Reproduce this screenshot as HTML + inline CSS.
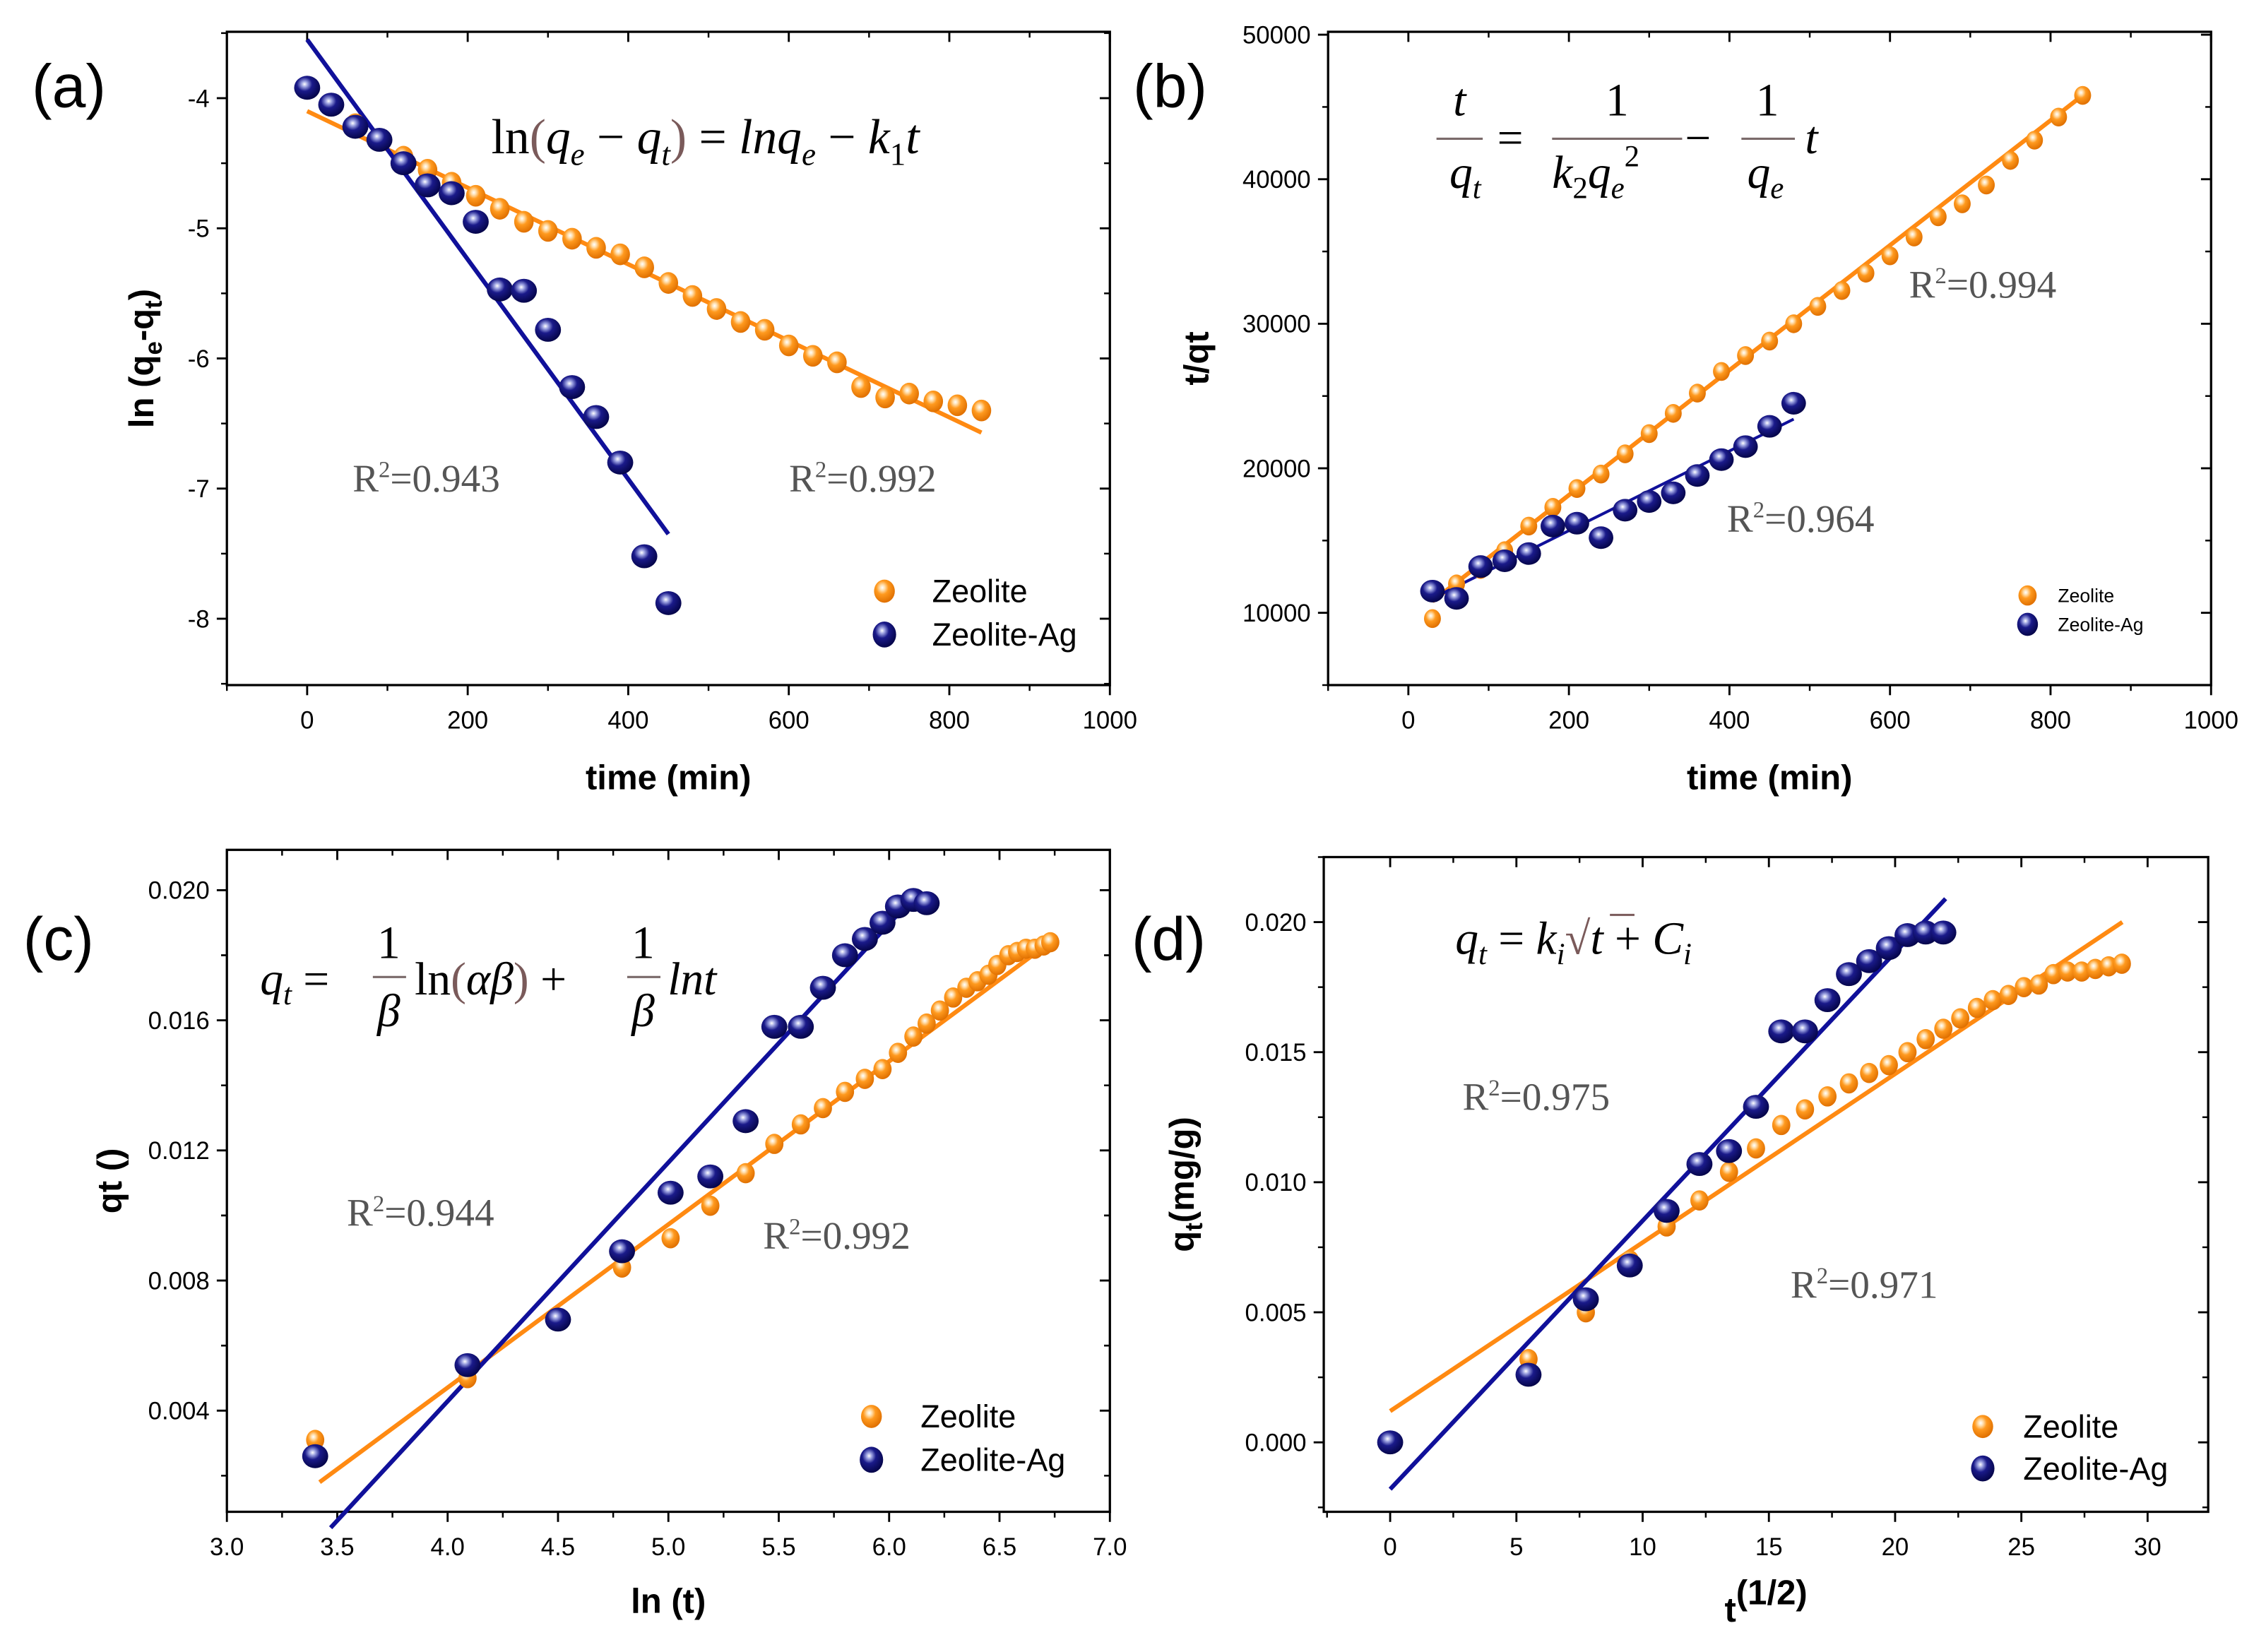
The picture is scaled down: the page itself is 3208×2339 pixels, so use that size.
<!DOCTYPE html>
<html><head><meta charset="utf-8"><style>
html,body{margin:0;padding:0;background:#fff;}
svg{display:block;}
</style></head><body>
<svg id="fig" xmlns="http://www.w3.org/2000/svg" width="3208" height="2339" viewBox="0 0 1568 1143" preserveAspectRatio="none">
<defs>
<radialGradient id="gO" cx="0.4" cy="0.35" r="0.65"><stop offset="0" stop-color="#fff"/><stop offset="0.18" stop-color="#ffe0b0"/><stop offset="0.45" stop-color="#ff9a1f"/><stop offset="1" stop-color="#e07000"/></radialGradient>
<radialGradient id="gB" cx="0.4" cy="0.35" r="0.65"><stop offset="0" stop-color="#fff"/><stop offset="0.18" stop-color="#9aa0e0"/><stop offset="0.45" stop-color="#1a1a8a"/><stop offset="1" stop-color="#05054a"/></radialGradient>
</defs>
</svg>
<script>
// ---------- data ----------
const aZeoT=[60,90,120,150,180,210,240,270,300,330,360,390,420,450,480,510,540,570,600,630,660,690,720,750,780,810,840];
const aZeoV=[-4.2,-4.32,-4.45,-4.55,-4.65,-4.75,-4.85,-4.95,-5.02,-5.08,-5.15,-5.2,-5.3,-5.42,-5.52,-5.62,-5.72,-5.78,-5.9,-5.98,-6.03,-6.22,-6.3,-6.27,-6.33,-6.36,-6.4];
const aAgT=[0,30,60,90,120,150,180,210,240,270,300,330,360,390,420,450];
const aAgV=[-3.92,-4.05,-4.22,-4.32,-4.5,-4.67,-4.73,-4.95,-5.47,-5.48,-5.78,-6.22,-6.45,-6.8,-7.52,-7.88];
const aZeoFit=[[0,-4.1],[840,-6.57]];
const aAgFit=[[0,-3.55],[450,-7.35]];

const bZeoT=[30,60,90,120,150,180,210,240,270,300,330,360,390,420,450,480,510,540,570,600,630,660,690,720,750,780,810,840];
const bZeoV=[9600,12000,13000,14300,16000,17300,18600,19600,21000,22400,23800,25200,26700,27800,28800,30000,31200,32300,33500,34700,36000,37400,38300,39600,41300,42700,44300,45800];
const bAgT=[30,60,90,120,150,180,210,240,270,300,330,360,390,420,450,480];
const bAgV=[11500,11000,13200,13600,14100,16000,16200,15200,17100,17700,18300,19500,20600,21500,22900,24500];
const bZeoFit=[[30,10800],[840,45800]];
const bAgFit=[[30,11000],[480,23400]];

const cZeoX=[3.40,4.09,4.50,4.79,5.01,5.19,5.35,5.48,5.60,5.70,5.80,5.89,5.97,6.04,6.11,6.17,6.23,6.29,6.35,6.40,6.45,6.49,6.54,6.58,6.62,6.66,6.70,6.73];
const cZeoV=[0.0031,0.0050,0.0068,0.0084,0.0093,0.0103,0.0113,0.0122,0.0128,0.0133,0.0138,0.0142,0.0145,0.0150,0.0155,0.0159,0.0163,0.0167,0.0170,0.0172,0.0174,0.0177,0.0180,0.0181,0.0182,0.0182,0.0183,0.0184];
const cAgX=[3.40,4.09,4.50,4.79,5.01,5.19,5.35,5.48,5.60,5.70,5.80,5.89,5.97,6.04,6.11,6.17];
const cAgV=[0.0026,0.0054,0.0068,0.0089,0.0107,0.0112,0.0129,0.0158,0.0158,0.0170,0.0180,0.0185,0.0190,0.0195,0.0197,0.0196];
const cZeoFit=[[3.42,0.0018],[6.73,0.0184]];
const cAgFit=[[3.47,0.0004],[6.1,0.0197]];

const dZeoX=[5.48,7.75,9.49,10.95,12.25,13.42,14.49,15.49,16.43,17.32,18.17,18.97,19.75,20.49,21.21,21.91,22.58,23.24,23.87,24.49,25.1,25.69,26.27,26.83,27.39,27.93,28.46,28.98];
const dZeoV=[0.0032,0.0050,0.0070,0.0083,0.0093,0.0104,0.0113,0.0122,0.0128,0.0133,0.0138,0.0142,0.0145,0.0150,0.0155,0.0159,0.0163,0.0167,0.0170,0.0172,0.0175,0.0176,0.0180,0.0181,0.0181,0.0182,0.0183,0.0184];
const dAgX=[0,5.48,7.75,9.49,10.95,12.25,13.42,14.49,15.49,16.43,17.32,18.17,18.97,19.75,20.49,21.21,21.91];
const dAgV=[0,0.0026,0.0055,0.0068,0.0089,0.0107,0.0112,0.0129,0.0158,0.0158,0.0170,0.0180,0.0185,0.0190,0.0195,0.0196,0.0196];
const dZeoFit=[[0,0.0012],[29,0.0200]];
const dAgFit=[[0,-0.0018],[22,0.0209]];

const aXTicks=[0,200,400,600,800,1000];
const aYTicks=[-4,-5,-6,-7,-8];
const bXTicks=[0,200,400,600,800,1000];
const bYTicks=[10000,20000,30000,40000,50000];
const cXTicks=[3.0,3.5,4.0,4.5,5.0,5.5,6.0,6.5,7.0];
const cYTicks=[0.004,0.008,0.012,0.016,0.020];
const dXTicks=[0,5,10,15,20,25,30];
const dYTicks=[0.000,0.005,0.010,0.015,0.020];

// ---------- drawing ----------
const NS='http://www.w3.org/2000/svg';
const svg=document.getElementById('fig');
function mk(tag,attrs,parent){const e=document.createElementNS(NS,tag);for(const k in attrs)e.setAttribute(k,attrs[k]);(parent||svg).appendChild(e);return e;}
const ORANGE='#ff8a12', BLUE='#10109a';
const TF='"Liberation Sans Narrow","Liberation Sans",sans-serif';

function panel(p){
  const g=mk('g',{});
  
  
  const sx=v=>p.x0+(v-p.xmin)/(p.xmax-p.xmin)*(p.x1-p.x0);
  const sy=v=>p.y1-(v-p.ymin)/(p.ymax-p.ymin)*(p.y1-p.y0);
  const frame=mk('rect',{x:p.x0,y:p.y0,width:p.x1-p.x0,height:p.y1-p.y0,fill:'none',stroke:'#000','stroke-width':1.6},g);
  
  
  // x ticks
  p.xt.forEach((v,i)=>{
    const x=sx(v);
    mk('line',{x1:x,y1:p.y1,x2:x,y2:p.y1+7,stroke:'#000','stroke-width':1.4},g);
    mk('line',{x1:x,y1:p.y0,x2:x,y2:p.y0+7,stroke:'#000','stroke-width':1.4},g);
    const t=mk('text',{x:x,y:p.y1+30,'text-anchor':'middle','font-family':TF,'font-size':17},g);
    t.textContent=p.xfmt(v);
    
    
    if(i<p.xt.length-1){const xm=sx((v+p.xt[i+1])/2);
      mk('line',{x1:xm,y1:p.y1,x2:xm,y2:p.y1+4,stroke:'#000','stroke-width':1.2},g);
      mk('line',{x1:xm,y1:p.y0,x2:xm,y2:p.y0+4,stroke:'#000','stroke-width':1.2},g);}
  });
  if(p.xt0!==undefined){const xm=sx(p.xt0);mk('line',{x1:xm,y1:p.y1,x2:xm,y2:p.y1+4,stroke:'#000','stroke-width':1.2},g);}
  p.yt.forEach((v,i)=>{
    const y=sy(v);
    mk('line',{x1:p.x0-7,y1:y,x2:p.x0,y2:y,stroke:'#000','stroke-width':1.4},g);
    mk('line',{x1:p.x1-7,y1:y,x2:p.x1,y2:y,stroke:'#000','stroke-width':1.4},g);
    const t=mk('text',{x:p.x0-12,y:y+6,'text-anchor':'end','font-family':TF,'font-size':17},g);
    t.textContent=p.yfmt(v);
    
    
    if(i<p.yt.length-1){const ym=sy((v+p.yt[i+1])/2);
      mk('line',{x1:p.x0-4,y1:ym,x2:p.x0,y2:ym,stroke:'#000','stroke-width':1.2},g);
      mk('line',{x1:p.x1-4,y1:ym,x2:p.x1,y2:ym,stroke:'#000','stroke-width':1.2},g);}
  });
  (p.yextra||[]).forEach(v=>{const ym=sy(v);
      mk('line',{x1:p.x0-4,y1:ym,x2:p.x0,y2:ym,stroke:'#000','stroke-width':1.2},g);
      mk('line',{x1:p.x1-4,y1:ym,x2:p.x1,y2:ym,stroke:'#000','stroke-width':1.2},g);});
  // fits
  const f1=mk('line',{x1:sx(p.zf[0][0]),y1:sy(p.zf[0][1]),x2:sx(p.zf[1][0]),y2:sy(p.zf[1][1]),stroke:ORANGE,'stroke-width':p.lw},g);
  
  
  const f2=mk('line',{x1:sx(p.af[0][0]),y1:sy(p.af[0][1]),x2:sx(p.af[1][0]),y2:sy(p.af[1][1]),stroke:BLUE,'stroke-width':p.lwb||p.lw},g);
  
  
  // points
  p.zx.forEach((x,i)=>{const c=mk('ellipse',{cx:sx(x),cy:sy(p.zy[i]),rx:p.ro*0.9,ry:p.ro,fill:'url(#gO)'},g);
    
    });
  p.ax.forEach((x,i)=>{const c=mk('ellipse',{cx:sx(x),cy:sy(p.ay[i]),rx:p.rb,ry:p.rb*0.92,fill:'url(#gB)'},g);
    
    });
  // axis titles
  const xt=mk('text',{x:(p.x0+p.x1)/2,y:p.xty,'text-anchor':'middle','font-family':'"Liberation Sans",sans-serif','font-size':24,'font-weight':'bold'},g);
  xt.innerHTML=p.xtitle;
  
  
  const yt=mk('text',{x:0,y:0,'text-anchor':'middle','font-family':'"Liberation Sans",sans-serif','font-size':24,'font-weight':'bold',transform:`translate(${p.ytx},${(p.y0+p.y1)/2}) rotate(-90)`},g);
  yt.innerHTML=p.ytitle;
  
  
  // panel label
  const pl=mk('text',{x:p.plx,y:p.ply,'font-family':'"Liberation Sans",sans-serif','font-size':42},g);
  pl.textContent='('+p.id+')';
  
  
  // R2
  p.r2.forEach(r=>{const t=mk('text',{x:r[0],y:r[1],'font-family':'"Liberation Serif",serif','font-size':27,fill:'#555'},g);
    t.innerHTML='R<tspan dy="-10" font-size="16">2</tspan><tspan dy="10">='+r[2]+'</tspan>';
    
    });
  // legend
  const L=p.leg;
  const lg=mk('g',{},g);
  
  
  [['Zeolite','url(#gO)',L.ro],['Zeolite-Ag','url(#gB)',L.rb]].forEach((e,i)=>{
    const yy=L.y+i*L.dy;
    const c=mk('ellipse',{cx:L.x,cy:yy,rx:e[2]*0.9,ry:e[2],fill:e[1]},lg);
    
    
    const t=mk('text',{x:L.x+L.tx,y:yy+L.fs*0.35,'font-family':TF,'font-size':L.fs},lg);
    t.textContent=e[0];
    
    
  });
  // equation
  const eq=mk('g',{},g);
  
  
  eq.innerHTML=p.eq;
}

const I='font-family="Liberation Serif,serif" font-style="italic"';
panel({id:'a',x0:157,x1:768,y0:22,y1:474,xmin:-100,xmax:1000,ymin:-8.51,ymax:-3.49,
 xt:aXTicks,yt:aYTicks,xt0:-100,yextra:[-3.5,-8.5],xfmt:v=>String(v),yfmt:v=>String(v),
 zx:aZeoT,zy:aZeoV,ax:aAgT,ay:aAgV,zf:aZeoFit,af:aAgFit,lw:3,ro:7.5,rb:9,
 xtitle:'time (min)',xty:546,ytitle:'ln (q<tspan dy="6" font-size="17">e</tspan><tspan dy="-6">-q</tspan><tspan dy="6" font-size="17">t</tspan><tspan dy="-6">)</tspan>',ytx:106,
 plx:22,ply:74,r2:[[244,340,'0.943'],[546,340,'0.992']],
 leg:{x:612,y:409,dy:30,tx:33,ro:8,rb:9,fs:22},
 eq:`<text x="340" y="106" font-family="Liberation Serif,serif" font-size="34">ln<tspan fill="#7a5a5a">(</tspan><tspan font-style="italic">q</tspan><tspan font-style="italic" font-size="22" dy="8">e</tspan><tspan dy="-8"> − </tspan><tspan font-style="italic">q</tspan><tspan font-style="italic" font-size="22" dy="8">t</tspan><tspan dy="-8" fill="#7a5a5a">)</tspan> = <tspan font-style="italic">lnq</tspan><tspan font-style="italic" font-size="22" dy="8">e</tspan><tspan dy="-8"> − </tspan><tspan font-style="italic">k</tspan><tspan font-size="22" dy="8">1</tspan><tspan font-style="italic" dy="-8">t</tspan></text>`});

panel({id:'b',x0:919,x1:1530,y0:22,y1:474,xmin:-100,xmax:1000,ymin:5000,ymax:50200,
 xt:bXTicks,yt:bYTicks,xt0:-100,yextra:[5000],xfmt:v=>String(v),yfmt:v=>String(v),
 zx:bZeoT,zy:bZeoV,ax:bAgT,ay:bAgV,zf:bZeoFit,af:bAgFit,lw:3,lwb:2,ro:6.5,rb:8.5,
 xtitle:'time (min)',xty:546,ytitle:'t/qt',ytx:836,
 plx:784,ply:74,r2:[[1321,206,'0.994'],[1195,368,'0.964']],
 leg:{x:1403,y:412,dy:20,tx:21,ro:7,rb:8,fs:13},
 eq:`<g font-family="Liberation Serif,serif" font-size="32">
 <text x="1010" y="80" text-anchor="middle" font-style="italic">t</text>
 <line x1="994" y1="96" x2="1026" y2="96" stroke="#7a6a6a" stroke-width="1.5"/>
 <text x="1003" y="130" font-style="italic">q<tspan font-size="21" dy="7">t</tspan></text>
 <text x="1036" y="106">=</text>
 <text x="1119" y="80" text-anchor="middle">1</text>
 <line x1="1074" y1="96" x2="1164" y2="96" stroke="#7a6a6a" stroke-width="1.5"/>
 <text x="1074" y="130" font-style="italic">k<tspan font-style="normal" font-size="21" dy="7">2</tspan><tspan dy="-7">q</tspan><tspan font-size="21" dy="7">e</tspan><tspan font-style="normal" font-size="21" dy="-22">2</tspan></text>
 <text x="1166" y="106">−</text>
 <text x="1223" y="80" text-anchor="middle">1</text>
 <line x1="1205" y1="96" x2="1242" y2="96" stroke="#7a6a6a" stroke-width="1.5"/>
 <text x="1209" y="130" font-style="italic">q<tspan font-size="21" dy="7">e</tspan></text>
 <text x="1249" y="106" font-style="italic">t</text></g>`});

panel({id:'c',x0:157,x1:768,y0:588,y1:1046,xmin:3.0,xmax:7.0,ymin:0.00089,ymax:0.02124,
 xt:cXTicks,yt:cYTicks,yextra:[0.002,0.006,0.010,0.014,0.018],xfmt:v=>v.toFixed(1),yfmt:v=>v.toFixed(3),
 zx:cZeoX,zy:cZeoV,ax:cAgX,ay:cAgV,zf:cZeoFit,af:cAgFit,lw:3,ro:7,rb:9,
 xtitle:'ln (t)',xty:1116,ytitle:'qt ()',ytx:84,
 plx:16,ply:664,r2:[[240,848,'0.944'],[528,864,'0.992']],
 leg:{x:603,y:980,dy:30,tx:34,ro:8,rb:9,fs:22},
 eq:`<g font-family="Liberation Serif,serif" font-size="32">
 <text x="180" y="688" font-style="italic">q<tspan font-size="21" dy="7">t</tspan><tspan font-style="normal" dy="-7"> =</tspan></text>
 <text x="269" y="663" text-anchor="middle">1</text>
 <line x1="258" y1="676" x2="281" y2="676" stroke="#7a6a6a" stroke-width="1.5"/>
 <text x="269" y="710" text-anchor="middle" font-style="italic">β</text>
 <text x="287" y="688">ln<tspan fill="#7a5a5a">(</tspan><tspan font-style="italic">αβ</tspan><tspan fill="#7a5a5a">)</tspan> +</text>
 <text x="445" y="663" text-anchor="middle">1</text>
 <line x1="434" y1="676" x2="457" y2="676" stroke="#7a6a6a" stroke-width="1.5"/>
 <text x="445" y="710" text-anchor="middle" font-style="italic">β</text>
 <text x="462" y="688" font-style="italic">lnt</text></g>`});

panel({id:'d',x0:916,x1:1528,y0:593,y1:1046,xmin:-2.63,xmax:32.4,ymin:-0.00267,ymax:0.0225,
 xt:dXTicks,yt:dYTicks,xt0:-2.5,yextra:[-0.0025,0.0225],xfmt:v=>String(v),yfmt:v=>v.toFixed(3),
 zx:dZeoX,zy:dZeoV,ax:dAgX,ay:dAgV,zf:dZeoFit,af:dAgFit,lw:3,ro:7,rb:9,
 xtitle:'t<tspan dy="-12">(1/2)</tspan>',xty:1122,ytitle:'q<tspan dy="6" font-size="17">t</tspan><tspan dy="-6">(mg/g)</tspan>',ytx:826,
 plx:783,ply:664,r2:[[1012,768,'0.975'],[1239,898,'0.971']],
 leg:{x:1372,y:987,dy:29,tx:28,ro:8,rb:9,fs:22},
 eq:`<text x="1007" y="660" font-family="Liberation Serif,serif" font-size="32"><tspan font-style="italic">q</tspan><tspan font-style="italic" font-size="21" dy="7">t</tspan><tspan dy="-7"> =  </tspan><tspan font-style="italic">k</tspan><tspan font-style="italic" font-size="21" dy="7">i</tspan><tspan dy="-7" fill="#7a5a5a">√</tspan><tspan font-style="italic">t</tspan> + <tspan font-style="italic">C</tspan><tspan font-style="italic" font-size="21" dy="7">i</tspan></text>
 <line x1="1114" y1="633" x2="1131" y2="633" stroke="#7a5a5a" stroke-width="1.5"/>`});
</script>
</body></html>
